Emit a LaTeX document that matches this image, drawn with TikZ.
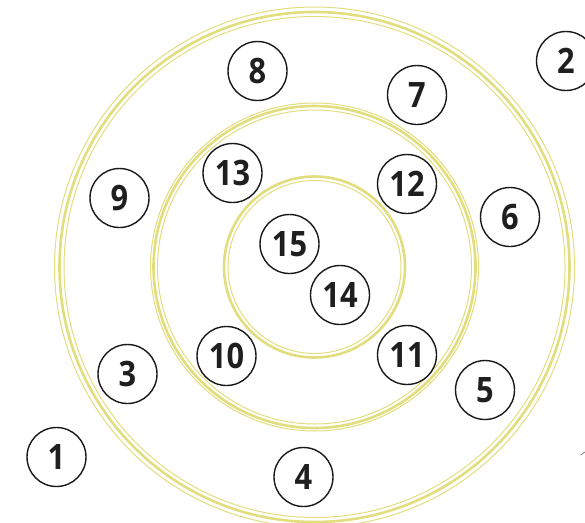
\documentclass[tikz,border=0pt]{standalone}
\usepackage{fontspec}
\setmainfont{Open Sans}[FakeStretch=0.88]
\definecolor{ringyellow}{RGB}{226,221,125}
\begin{document}
\begin{tikzpicture}[x=1pt,y=-1pt,
  ringthick/.style={draw=ringyellow,line width=2.6pt},
  ringthin/.style={draw=ringyellow,line width=1pt},
  num/.style={circle,draw=black!90,line width=1.4pt,minimum size=59pt,inner sep=0pt,
    font=\fontsize{35}{35}\selectfont\bfseries,text=black!88}]
\useasboundingbox (0,0) rectangle (585,522);
\coordinate (c) at (314.5,267);
% outer ring
\draw[ringthin] (c) circle[radius=260];
\draw[ringthick] (c) circle[radius=255];
\draw[ringthin] (c) circle[radius=250.5];
% middle ring
\draw[ringthin] (c) circle[radius=164];
\draw[ringthick] (c) circle[radius=161];
\draw[ringthin] (c) circle[radius=157];
% inner ring
\draw[ringthick] (c) circle[radius=90.5];
\draw[ringthin] (c) circle[radius=86.5];
% numbered nodes
\node[num] (n1) at (56.5,457) {1};
\node[num] (n2) at (566,61) {2};
\node[num] (n3) at (127.5,374) {3};
\node[num] (n4) at (303.5,477) {4};
\node[num] (n5) at (485,390) {5};
\node[num] (n6) at (510,217) {6};
\node[num] (n7) at (417,95) {7};
\node[num] (n8) at (257.5,71) {8};
\node[num] (n9) at (119.5,198) {9};
\node[num] (n10) at (226.5,356) {10};
\node[num] (n11) at (407,355) {11};
\node[num] (n12) at (407,184) {12};
\node[num] (n13) at (232.5,173) {13};
\node[num] (n14) at (340,295) {14};
\node[num] (n15) at (289.5,244) {15};
% small grey mark at right edge
\coordinate (m1) at (580.5,455);
\coordinate (m2) at (585,452);
\draw[gray,line width=0.8pt] (m1) -- (m2);
\end{tikzpicture}
\end{document}
